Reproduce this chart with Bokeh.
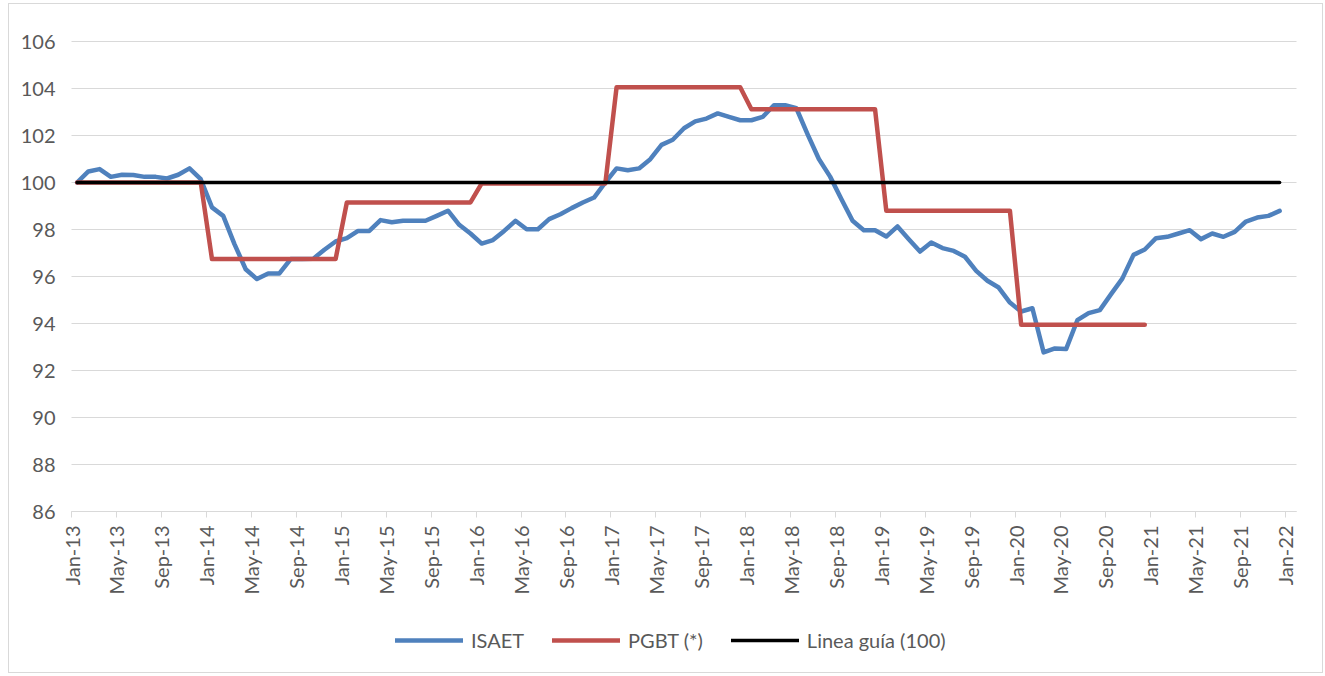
import numpy as np
from bokeh.plotting import figure
from bokeh.models import (Range1d, FixedTicker, Legend, LegendItem, ColumnDataSource)
from bokeh.embed import file_html
from bokeh.resources import INLINE

# ---------------- data ----------------
tick_labels = ["Jan-13", "May-13", "Sep-13", "Jan-14", "May-14", "Sep-14", "Jan-15",
               "May-15", "Sep-15", "Jan-16", "May-16", "Sep-16", "Jan-17", "May-17",
               "Sep-17", "Jan-18", "May-18", "Sep-18", "Jan-19", "May-19", "Sep-19",
               "Jan-20", "May-20", "Sep-20", "Jan-21", "May-21", "Sep-21", "Jan-22"]
y_ticks = [86, 88, 90, 92, 94, 96, 98, 100, 102, 104, 106]

isaet = [100.0, 100.47, 100.57, 100.24, 100.33, 100.32, 100.24, 100.24, 100.17, 100.33, 100.6, 100.14,   # 2013
         98.94, 98.58, 97.38, 96.31, 95.89, 96.13, 96.13, 96.74, 96.74, 96.75, 97.14, 97.49,            # 2014
         97.63, 97.94, 97.94, 98.40, 98.31, 98.37, 98.37, 98.37, 98.58, 98.80, 98.20, 97.83,            # 2015
         97.40, 97.55, 97.94, 98.37, 98.01, 98.01, 98.44, 98.65, 98.91, 99.15, 99.36, 100.0,            # 2016
         100.6, 100.52, 100.6, 100.99, 101.6, 101.82, 102.31, 102.6, 102.72, 102.94, 102.79, 102.65,     # 2017
         102.65, 102.79, 103.29, 103.29, 103.16, 102.05, 101.0, 100.25, 99.3, 98.37, 97.97, 97.97,       # 2018
         97.70, 98.13, 97.59, 97.06, 97.45, 97.21, 97.09, 96.84, 96.24, 95.82, 95.53, 94.89,             # 2019
         94.51, 94.65, 92.77, 92.94, 92.91, 94.14, 94.44, 94.57, 95.25, 95.91, 96.92, 97.15,             # 2020
         97.63, 97.69, 97.83, 97.97, 97.59, 97.83, 97.69, 97.90, 98.34, 98.51, 98.58, 98.79]             # 2021

nan = float("nan")
pgbt = [100.0] * 12 + [96.74] * 12 + [99.15] * 12 + [99.96] * 12 + \
       [104.05] * 12 + [103.12] * 12 + [98.80] * 12 + [93.95] * 12 + [nan] * 12

guide_value = 100.0

# ---------------- geometry ----------------
TXT = "#595959"
GRID = "#D9D9D9"
FONT = "Lato"

# figure placed at page (9, 4) by css margin + 1px border; the frame fills the whole canvas
W, H = 1315, 670
n_slots = len(tick_labels) * 4 - 3          # 109 monthly slots, Jan-13 .. Jan-22
plot_left, plot_top = 62, 37                # plotting area offset inside the canvas (px)
px_x = 1225 / n_slots
px_y = 23.5
x_lo = -plot_left / px_x
x_hi = x_lo + W / px_x
y_hi = y_ticks[-1] + plot_top / px_y
y_lo = y_hi - H / px_y

p = figure(width=W, height=H, output_backend="svg", toolbar_location=None,
           x_range=Range1d(x_lo, x_hi), y_range=Range1d(y_lo, y_hi),
           min_border_left=0, min_border_right=0, min_border_top=0, min_border_bottom=0)
p.styles = {"margin-left": "8px", "margin-top": "3px", "border": "1px solid #D9D9D9"}
p.outline_line_color = None
p.background_fill_color = "white"
p.border_fill_color = "white"

x = np.arange(len(isaet)) + 0.5
src = ColumnDataSource(dict(x=x, isaet=isaet, pgbt=pgbt, guide=[guide_value] * len(isaet)))

r1 = p.line("x", "isaet", source=src, line_color="#4F81BD", line_width=4.5,
            line_join="round", line_cap="round")
r2 = p.line("x", "pgbt", source=src, line_color="#C0504D", line_width=4.5,
            line_join="round", line_cap="round")
r3 = p.line("x", "guide", source=src, line_color="#000000", line_width=3.5,
            line_join="round", line_cap="round")

# x axis sits on the 86 line
p.xaxis.fixed_location = y_ticks[0]
p.xaxis.bounds = (0, n_slots)
p.xaxis.ticker = FixedTicker(ticks=[4 * i for i in range(len(tick_labels))])
p.xaxis.major_label_overrides = {4 * i: lab for i, lab in enumerate(tick_labels)}
p.xaxis.major_label_orientation = np.pi / 2
p.xaxis.axis_line_color = GRID
p.xaxis.axis_line_width = 1
p.xaxis.major_tick_line_color = GRID
p.xaxis.major_tick_out = 6
p.xaxis.major_tick_in = 0
p.xaxis.minor_tick_line_color = None
p.xaxis.major_label_standoff = 8
p.xaxis.major_label_text_font = FONT
p.xaxis.major_label_text_font_size = "20px"
p.xaxis.major_label_text_color = TXT

# y axis sits at the left edge of the plotting area
p.yaxis.fixed_location = 0
p.yaxis.ticker = FixedTicker(ticks=y_ticks)
p.yaxis.axis_line_color = None
p.yaxis.major_tick_line_color = None
p.yaxis.minor_tick_line_color = None
p.yaxis.major_label_standoff = 10
p.yaxis.major_label_text_font = FONT
p.yaxis.major_label_text_font_size = "20px"
p.yaxis.major_label_text_color = TXT

p.xgrid.grid_line_color = None
p.ygrid.grid_line_color = GRID
p.ygrid.grid_line_width = 1
p.ygrid.cross_bounds = (0, n_slots)

# legend below the tick labels
lg = Legend(items=[LegendItem(label="ISAET", renderers=[r1]),
                   LegendItem(label="PGBT (*)", renderers=[r2]),
                   LegendItem(label="Linea guía (100)", renderers=[r3])],
            location=(386, 22), orientation="horizontal",
            glyph_width=68, glyph_height=24, label_standoff=8, spacing=28,
            padding=0, margin=0, border_line_color=None, background_fill_alpha=0,
            label_text_font=FONT, label_text_font_size="20px", label_text_color=TXT)
p.add_layout(lg, "center")

open("out.html", "w").write(file_html(p, INLINE))
